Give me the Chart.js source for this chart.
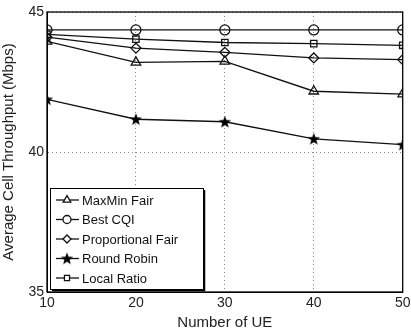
<!DOCTYPE html>
<html>
<head>
    <meta charset="UTF-8">
    <title>Average Cell Throughput</title>
    <script src="https://cdn.jsdelivr.net/npm/chart.js"></script>
    <style>
        body { margin: 0; background: #fff; }
        #wrap { width: 411px; height: 336px; }
    </style>
</head>
<body>
<div id="wrap">
    <canvas id="myChart"></canvas>
</div>

<script>
    let labels = [10, 20, 30, 40, 50];
    let maxMinFair = [43.95, 43.2, 43.24, 42.17, 42.07];
    let bestCqi = [44.36, 44.36, 44.36, 44.36, 44.36];
    let propFair = [44.1, 43.71, 43.56, 43.36, 43.3];
    let roundRobin = [41.88, 41.17, 41.08, 40.47, 40.26];
    let localRatio = [44.2, 44.03, 43.91, 43.87, 43.81];
    let yTicks = [35, 40, 45];

    // filled five point star for Round Robin
    function makeStar() {
        const c = document.createElement('canvas');
        c.width = 14; c.height = 14;
        const g = c.getContext('2d');
        g.fillStyle = '#000';
        g.beginPath();
        for (let i = 0; i < 10; i++) {
            const r = i % 2 === 0 ? 6.5 : 2.7;
            const a = -Math.PI / 2 + i * Math.PI / 5;
            const px = 7 + r * Math.cos(a), py = 7.5 + r * Math.sin(a);
            if (i === 0) g.moveTo(px, py); else g.lineTo(px, py);
        }
        g.closePath();
        g.fill();
        return c;
    }
    const star = makeStar();

    function ds(label, values, style, radius) {
        return {
            label: label,
            data: values,
            borderColor: '#111',
            backgroundColor: 'rgba(0,0,0,0)',
            borderWidth: 1.3,
            pointStyle: style,
            pointRadius: radius,
            pointBorderWidth: 1.3,
            pointBorderColor: '#111',
            pointBackgroundColor: 'rgba(0,0,0,0)',
            tension: 0
        };
    }

    const data = {
        labels: labels,
        datasets: [
            ds('MaxMin Fair', maxMinFair, 'triangle', 5.5),
            ds('Best CQI', bestCqi, 'circle', 5),
            ds('Proportional Fair', propFair, 'rectRot', 5),
            ds('Round Robin', roundRobin, star, 7),
            ds('Local Ratio', localRatio, 'rect', 4.5)
        ]
    };

    const frameAndLegend = {
        id: 'frameAndLegend',
        afterDraw(chart) {
            const ctx = chart.ctx;
            const a = chart.chartArea;
            ctx.save();
            ctx.strokeStyle = '#000';
            ctx.lineWidth = 1.3;
            ctx.strokeRect(a.left, a.top, a.right - a.left, a.bottom - a.top);

            // legend box inside the plot
            const bx = 50, by = 188, bw = 153, bh = 101;
            ctx.fillStyle = '#fff';
            ctx.fillRect(bx, by, bw, bh);
            ctx.lineWidth = 1;
            ctx.strokeRect(bx + 0.5, by + 0.5, bw, bh);
            ctx.lineWidth = 1.5;
            ctx.beginPath();
            ctx.moveTo(bx + bw + 1.5, by + 2);
            ctx.lineTo(bx + bw + 1.5, by + bh + 1.5);
            ctx.lineTo(bx + 2, by + bh + 1.5);
            ctx.stroke();

            ctx.font = '13px "Liberation Sans", Arial, sans-serif';
            ctx.textBaseline = 'middle';
            ctx.textAlign = 'left';
            chart.data.datasets.forEach((d, i) => {
                const y = 200 + i * 19.5;
                ctx.strokeStyle = '#111';
                ctx.lineWidth = 1.3;
                ctx.beginPath();
                ctx.moveTo(56, y);
                ctx.lineTo(79, y);
                ctx.stroke();
                ctx.fillStyle = '#fff';
                Chart.helpers.drawPoint(ctx, {
                    pointStyle: d.pointStyle,
                    radius: d.pointRadius * 0.8,
                    rotation: 0,
                    borderWidth: 1.2
                }, 67, y);
                ctx.fillStyle = '#111';
                ctx.fillText(d.label, 82, y + 1);
            });
            ctx.restore();
        }
    };

    const tickFont = { family: '"Liberation Sans", Arial, sans-serif', size: 14 };
    const titleFont = { family: '"Liberation Sans", Arial, sans-serif', size: 15 };

    const config = {
        type: 'line',
        data: data,
        options: {
            responsive: true,
            maintainAspectRatio: false,
            animation: false,
            layout: { padding: { top: 12, right: 7, left: 0, bottom: 0 } },
            plugins: {
                legend: { display: false },
                tooltip: { enabled: false }
            },
            scales: {
                x: {
                    type: 'linear',
                    min: 10,
                    max: 50,
                    ticks: {
                        stepSize: 10,
                        color: '#222',
                        font: tickFont,
                        padding: 3
                    },
                    grid: {
                        color: '#888',
                        lineWidth: 1,
                        drawTicks: false
                    },
                    border: { display: true, color: '#000', dash: [1, 3] },
                    title: {
                        display: true,
                        text: 'Number of UE',
                        color: '#222',
                        font: titleFont,
                        padding: { top: 0, bottom: 4 }
                    },
                    afterFit: (s) => {
                        s.height = 44;
                        s.paddingLeft = 0;
                        s.paddingRight = 0;
                    }
                },
                y: {
                    min: 35,
                    max: 45,
                    afterBuildTicks: (s) => { s.ticks = yTicks.map(v => ({ value: v })); },
                    ticks: {
                        color: '#222',
                        font: tickFont,
                        padding: 3
                    },
                    grid: {
                        color: '#888',
                        lineWidth: 1,
                        drawTicks: false
                    },
                    border: { display: true, color: '#000', dash: [1, 3] },
                    title: {
                        display: true,
                        text: 'Average Cell Throughput (Mbps)',
                        color: '#222',
                        font: titleFont,
                        padding: { top: 0, bottom: 0 }
                    },
                    afterFit: (s) => {
                        s.width = 47;
                        s.paddingTop = 0;
                        s.paddingBottom = 0;
                    }
                }
            }
        },
        plugins: [frameAndLegend]
    };

    const chart = new Chart(
        document.getElementById('myChart'),
        config
    );
</script>
</body>
</html>
